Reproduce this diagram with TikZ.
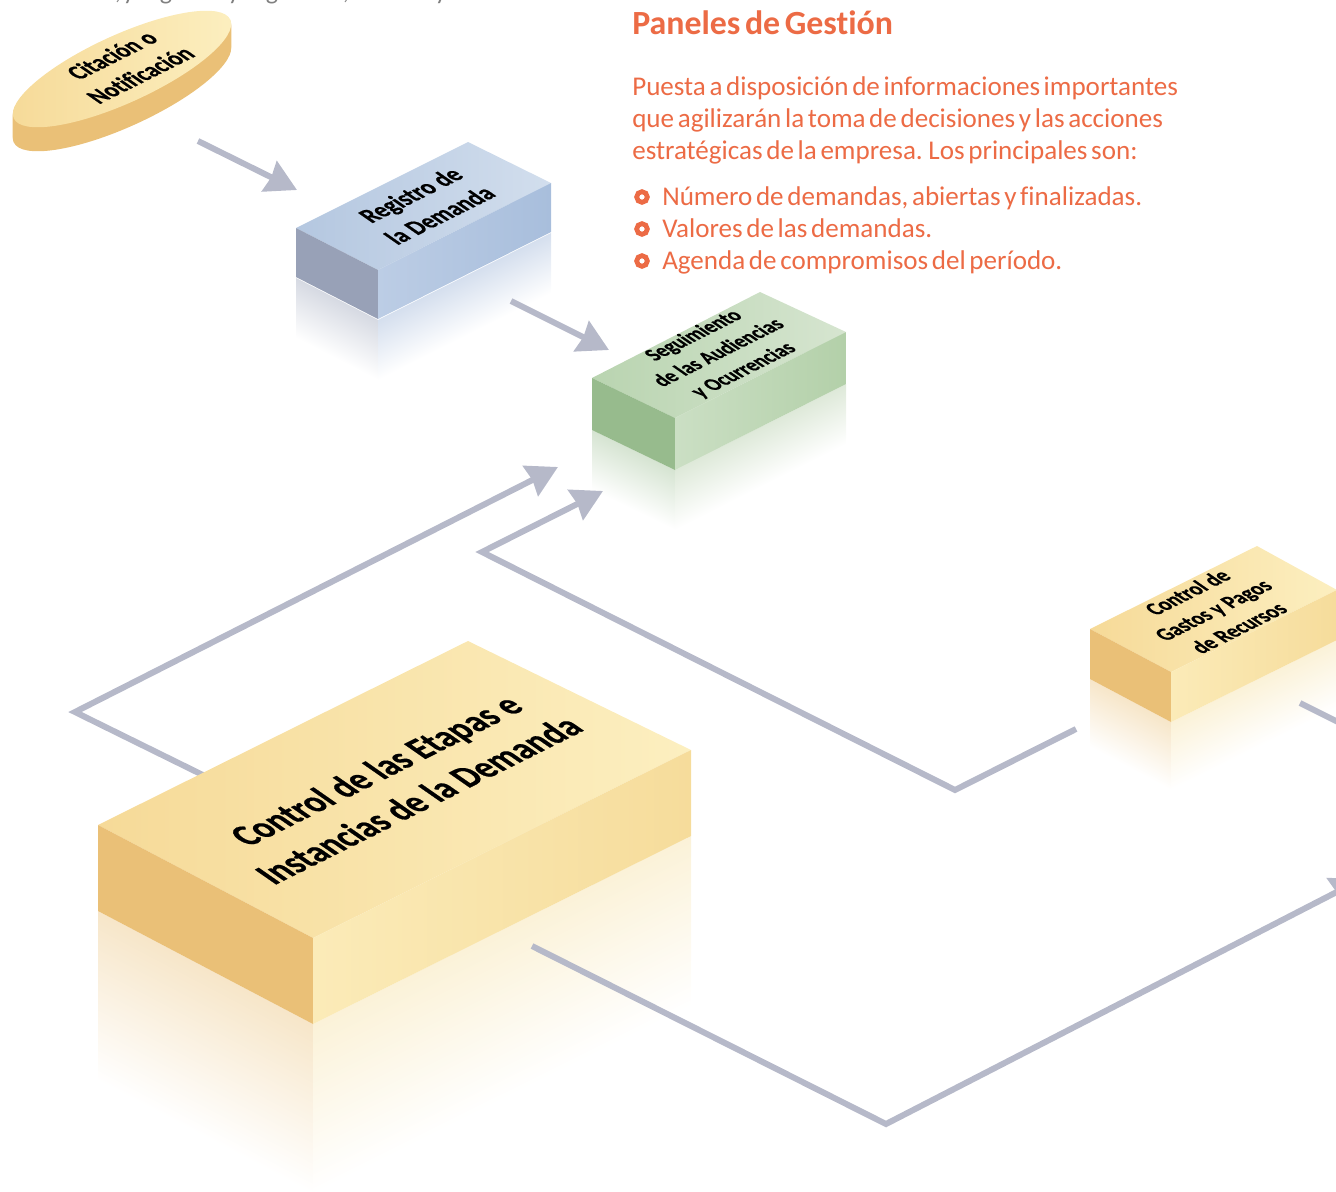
\documentclass[tikz,border=0pt]{standalone}
\usepackage{fontspec}
\setmainfont[WordSpace=0.6,Ligatures=NoCommon]{Carlito}
\newfontfamily\boxfont[UprightFont=* Bold,FakeBold=0.6,WordSpace=1.1,Ligatures=NoCommon]{Carlito}
\usetikzlibrary{arrows.meta,calc}
\definecolor{orangetext}{HTML}{EC6B45}
\definecolor{arrowgray}{HTML}{B6B9C9}
\definecolor{blueTopA}{HTML}{B4C7E0}\definecolor{blueTopB}{HTML}{D2DEED}
\definecolor{blueSideA}{HTML}{BCCDE5}\definecolor{blueSideB}{HTML}{A8BEDC}
\definecolor{blueLeft}{HTML}{98A1B7}\definecolor{blueRefl}{HTML}{D5DFEE}
\definecolor{greenTopA}{HTML}{B9D4B0}\definecolor{greenTopB}{HTML}{D6E5D0}
\definecolor{greenSideA}{HTML}{CBDFC4}\definecolor{greenSideB}{HTML}{B3D0A9}
\definecolor{greenLeft}{HTML}{97BB8D}\definecolor{greenRefl}{HTML}{DEE9D9}
\definecolor{yellowTopA}{HTML}{F6DA98}\definecolor{yellowTopB}{HTML}{FCEFC0}
\definecolor{yellowSideA}{HTML}{FBEBB8}\definecolor{yellowSideB}{HTML}{F6DC9B}
\definecolor{yellowLeft}{HTML}{EAC077}\definecolor{yellowRefl}{HTML}{FBF2D8}
\tikzset{
	flowline/.style={draw=arrowgray,line width=4.5pt,miter limit=10},
	isotext/.style={cm={.73,.365,-.82,.57,(0,0)},align=center,text=black,font=\boxfont\fontsize{#1pt}{\dimexpr#1pt*13/10\relax}\selectfont},
	paneltext/.style={anchor=base west,inner sep=0pt,text=orangetext,font=\fontsize{20.3}{24}\selectfont},
	bulletmark/.style={circle,draw=orangetext,line width=3.6pt,fill=white,minimum size=8pt,inner sep=0pt}
}
% reflection under a box: name, left corner, front corner, right corner, height, depth
\newcommand{\isoshadow}[9]{
	\pgfmathsetmacro{\ax}{(#4-#2)/100}\pgfmathsetmacro{\ay}{(#3-#5)/100}
	\pgfmathsetmacro{\bx}{(#6-#4)/100}\pgfmathsetmacro{\by}{(#5-#7)/100}
	\pgfmathsetmacro{\dd}{#9/100}
	\shade[top color=#1Left!40!white,bottom color=white,transform canvas={cm={\ax,\ay,0,\dd,(#2,#3+#8)}}] (0,0) rectangle (100,100);
	\shade[top color=#1Refl,bottom color=white,transform canvas={cm={\bx,\by,0,\dd,(#4,#5+#8)}}] (0,0) rectangle (100,100);
}
% box faces: name, left, top, right, front corner, height
\newcommand{\isobox}[6]{
	\shade[left color=#1TopA,right color=#1TopB] #2--#3--#4--#5--cycle;
	\fill[#1Left] #2--#5--($#5+(0,#6)$)--($#2+(0,#6)$)--cycle;
	\shade[left color=#1SideA,right color=#1SideB] #5--#4--($#4+(0,#6)$)--($#5+(0,#6)$)--cycle;
}
\begin{document}
\begin{tikzpicture}[x=.75pt,y=-.75pt,>={Stealth[length=23pt,width=25pt,inset=1.5pt]}]
	\path[use as bounding box,clip] (0,0) rectangle (1336,1192);
	% cut off line at the top edge
	\foreach \x/\t in {118/{,},129/y,166/g,234/y,272/g,346/{,},441/y}
		\node[anchor=base,inner sep=0pt,text=gray,font=\fontsize{19.5}{24}\selectfont] at (\x,-1) {\t};
	% reflections
	\isoshadow{blue}{296}{228}{378}{270}{551}{183}{50}{60}
	\isoshadow{green}{592}{378}{675}{418}{846}{332}{52}{60}
	\isoshadow{yellow}{1090}{629}{1171}{672}{1337}{590}{50}{68}
	\isoshadow{yellow}{98}{825}{313}{938}{691}{750}{86}{170}
	% connectors
	\coordinate (citaout) at (198,141);
	\coordinate (registroin) at (297,190);
	\coordinate (registroout) at (511,301);
	\coordinate (seguimientoin) at (609,350);
	\draw[->,flowline] (citaout)--(registroin);
	\draw[->,flowline] (registroout)--(seguimientoin);
	\coordinate (etapasout) at (215,781);
	\coordinate (bendleft) at (75,712);
	\coordinate (audienciain) at (558,467);
	\draw[->,flowline] (etapasout)--(bendleft)--(audienciain);
	\coordinate (gastosout) at (1076,729);
	\coordinate (bendlow) at (955,790);
	\coordinate (bendmid) at (482,552);
	\coordinate (ocurrenciain) at (603,491);
	\draw[->,flowline] (gastosout)--(bendlow)--(bendmid)--(ocurrenciain);
	\coordinate (etapaslow) at (532,946);
	\coordinate (bendbottom) at (886,1124);
	\coordinate (recursosin) at (1362,879);
	\draw[->,flowline] (etapaslow)--(bendbottom)--(recursosin);
	\coordinate (recursosout) at (1300,703);
	\coordinate (offpage) at (1350,728);
	\draw[flowline] (recursosout)--(offpage);
	% the round start
	\foreach \d in {24,23,...,1}
		\fill[yellowLeft,rotate around={24.5:(122,69+\d)}] (122,69+\d) ellipse [x radius=119,y radius=34];
	\shade[left color=yellowTopA,right color=yellowTopB,rotate around={24.5:(122,69)}] (122,69) ellipse [x radius=119,y radius=34];
	\node[name=citacion,isotext=20] at (126,65) {Citación o\\Notificación};
	% boxes
	\isobox{blue}{(296,228)}{(468,142)}{(551,183)}{(378,270)}{49}
	\node[name=registro,isotext=20.5] at (425,205) {Registro de\\la Demanda};
	\isobox{green}{(592,378)}{(760,292)}{(846,332)}{(675,418)}{52}
	\node[name=seguimiento,isotext=17.5] at (719,353) {Seguimiento\\de las Audiencias\\y Ocurrencias};
	\isobox{yellow}{(1090,629)}{(1257,546)}{(1337,590)}{(1171,672)}{50}
	\node[name=gastos,isotext=18] at (1213,610) {Control de\\Gastos y Pagos\\de Recursos};
	\isobox{yellow}{(98,825)}{(468,641)}{(691,750)}{(313,938)}{86}
	\node[name=etapas,isotext=30] at (397,785) {Control de las Etapas e\\Instancias de la Demanda};
	% text block
	\node[name=paneltitle,paneltext,font=\bfseries\fontsize{25.4}{24}\selectfont] at (632,34) {Paneles de Gestión};
	\node[name=panelbody,paneltext,align=left,anchor=north west] at (632,76) {Puesta a disposición de informaciones importantes\\que agilizarán la toma de decisiones y las acciones\\estratégicas de la empresa. Los principales son:};
	\foreach \n/\y/\t in {demandas/205/Número de demandas{,} abiertas y finalizadas.,valores/237/Valores de las demandas.,agenda/269/Agenda de compromisos del período.}{
		\node[name=\n,paneltext] at (662,\y) {\t};
		\node[name=mark\n,bulletmark] at (642,\y-8) {};
	}
\end{tikzpicture}
\end{document}
